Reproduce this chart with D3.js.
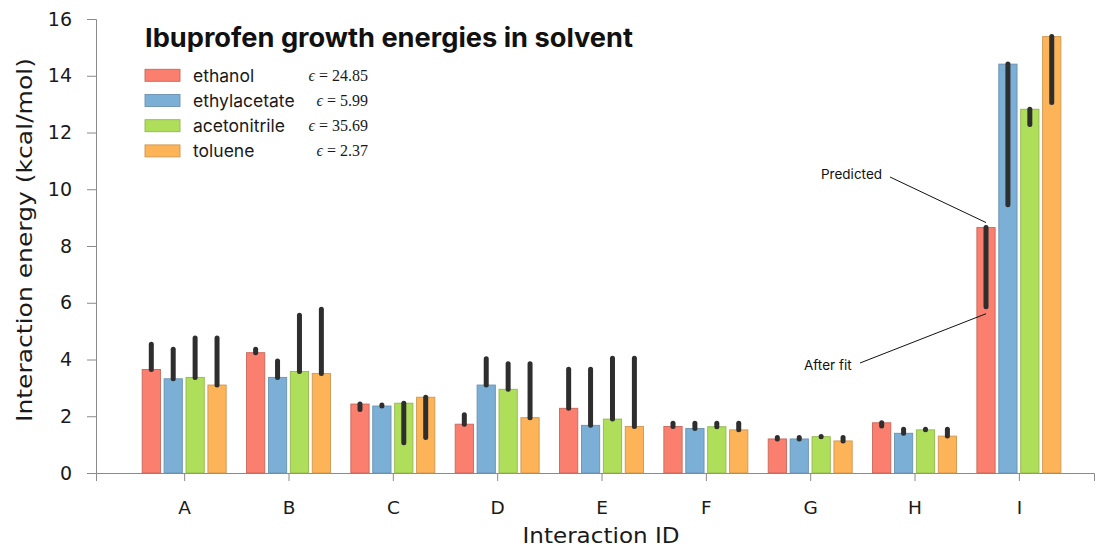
<!DOCTYPE html>
<html><head><meta charset="utf-8">
<script src="https://cdn.jsdelivr.net/npm/d3@7"></script>
<style>
html,body{margin:0;padding:0;background:#fff;}
svg{display:block;}
</style></head>
<body>
<svg id="chart" width="1099" height="548"></svg>
<script>
// ---- data ----
const categories = ["A","B","C","D","E","F","G","H","I"];
const solvents = ["ethanol","ethylacetate","acetonitrile","toluene"];
const epsilonLabels = ["24.85","5.99","35.69","2.37"];
// Predicted energies (bar heights)
const predEthanol      = [3.65, 4.24, 2.43, 1.72, 2.28, 1.64, 1.20, 1.77, 8.65];
const predEthylacetate = [3.32, 3.37, 2.36, 3.10, 1.68, 1.57, 1.20, 1.40, 14.41];
const predAcetonitrile = [3.37, 3.58, 2.46, 2.95, 1.90, 1.63, 1.28, 1.52, 12.82];
const predToluene      = [3.10, 3.51, 2.67, 1.95, 1.64, 1.52, 1.13, 1.30, 15.38];
// After-fit energies (other end of the dark range bar)
const fitEthanol      = [4.54, 4.36, 2.24, 2.05, 3.66, 1.75, 1.25, 1.66, 5.86];
const fitEthylacetate = [4.36, 3.95, 2.40, 4.03, 3.66, 1.75, 1.25, 1.54, 9.45];
const fitAcetonitrile = [4.76, 5.56, 1.07, 3.85, 4.04, 1.75, 1.29, 1.54, 12.28];
const fitToluene      = [4.76, 5.77, 1.25, 3.85, 4.04, 1.75, 1.25, 1.54, 13.06];
const yTicks = [0,2,4,6,8,10,12,14,16];

const predicted = [predEthanol, predEthylacetate, predAcetonitrile, predToluene];
const afterFit  = [fitEthanol, fitEthylacetate, fitAcetonitrile, fitToluene];
const colors = ["#FA7F6F","#7BAFD6","#AFDF5A","#FDB458"];
const strokes = ["#c9675a","#6a92b0","#93b74f","#cf9650"];

const svg = d3.select("#chart");
const x = d3.scaleLinear().domain([-0.845, 8.72]).range([96, 1094]);
const y = d3.scaleLinear().domain([0, 16]).range([473, 19]);
const barW = x(0.175) - x(0);
const off = k => x((k - 1.5) * 0.21) - x(0);

// axes
const yAxis = svg.append("g").attr("transform", "translate(96,0)")
  .call(d3.axisLeft(y).tickValues(yTicks).tickSize(9).tickPadding(15).tickFormat(d3.format("d")));
const xAxis = svg.append("g").attr("transform", "translate(0,473)")
  .call(d3.axisBottom(x).tickValues(d3.range(categories.length)).tickSize(8).tickPadding(20)
        .tickFormat(i => categories[i]));
[yAxis, xAxis].forEach(g => {
  g.selectAll("path,line").attr("stroke", "#8a8a8a").attr("stroke-width", 1);
  g.selectAll("text").attr("fill", "#1a1a1a").style("font-family", "DejaVu Sans").style("font-size", "19px");
});
xAxis.selectAll("text").style("font-size", "18.5px");

// bars
solvents.forEach((s, k) => {
  svg.append("g").selectAll("rect").data(predicted[k]).join("rect")
    .attr("x", (d, i) => x(i) + off(k) - barW / 2)
    .attr("y", d => y(d))
    .attr("width", barW)
    .attr("height", d => y(0) - y(d))
    .attr("fill", colors[k])
    .attr("stroke", strokes[k]).attr("stroke-width", 0.9);
});
// range bars (predicted -> after fit)
solvents.forEach((s, k) => {
  svg.append("g").selectAll("line").data(predicted[k]).join("line")
    .attr("x1", (d, i) => x(i) + off(k)).attr("x2", (d, i) => x(i) + off(k))
    .attr("y1", d => y(d)).attr("y2", (d, i) => y(afterFit[k][i]))
    .attr("stroke", "#2e2e2e").attr("stroke-width", 5).attr("stroke-linecap", "round");
});

// annotations
const ax = x(8) + off(0);
const ann = svg.append("g").style("font-family", "Inter").style("font-size", "13.5px").attr("fill", "#111");
ann.append("line").attr("x1", 890).attr("y1", 177).attr("x2", ax).attr("y2", y(predEthanol[8]) - 5)
  .attr("stroke", "#111").attr("stroke-width", 1);
ann.append("text").attr("x", 821).attr("y", 179).text("Predicted");
ann.append("line").attr("x1", 860).attr("y1", 363).attr("x2", ax).attr("y2", y(fitEthanol[8]) + 7)
  .attr("stroke", "#111").attr("stroke-width", 1);
ann.append("text").attr("x", 804).attr("y", 370).text("After fit");

// axis titles
svg.append("text").attr("x", 601).attr("y", 543).attr("text-anchor", "middle")
  .style("font-family", "DejaVu Sans").style("font-size", "21px").attr("fill", "#1a1a1a")
  .attr("textLength", 157).attr("lengthAdjust", "spacingAndGlyphs")
  .text("Interaction ID");
svg.append("text").attr("transform", "translate(32,240) rotate(-90)").attr("text-anchor", "middle")
  .style("font-family", "DejaVu Sans").style("font-size", "21.5px").attr("fill", "#1a1a1a")
  .attr("textLength", 364).attr("lengthAdjust", "spacingAndGlyphs")
  .text("Interaction energy (kcal/mol)");

// title
svg.append("text").attr("x", 145).attr("y", 47)
  .style("font-family", "Inter").style("font-weight", "700").style("font-size", "26px").attr("fill", "#111")
  .attr("textLength", 488).attr("lengthAdjust", "spacingAndGlyphs")
  .text("Ibuprofen growth energies in solvent");

// legend
const leg = svg.append("g");
solvents.forEach((s, k) => {
  const cy = 75.3 + k * 25.2;
  leg.append("rect").attr("x", 145).attr("y", cy - 6).attr("width", 35).attr("height", 12)
    .attr("fill", colors[k]).attr("stroke", strokes[k]).attr("stroke-width", 0.9);
  leg.append("text").attr("x", 193).attr("y", cy + 6.3)
    .style("font-family", "Inter").style("font-size", "17.5px").attr("fill", "#1a1a1a").text(s);
  const t = leg.append("text").attr("x", 368).attr("y", cy + 5.5).attr("text-anchor", "end")
    .style("font-family", "Liberation Serif").style("font-size", "16px").attr("fill", "#1a1a1a");
  t.append("tspan").style("font-style", "italic").text("\u03F5");
  t.append("tspan").text(" = " + epsilonLabels[k]);
});
</script>
</body></html>
